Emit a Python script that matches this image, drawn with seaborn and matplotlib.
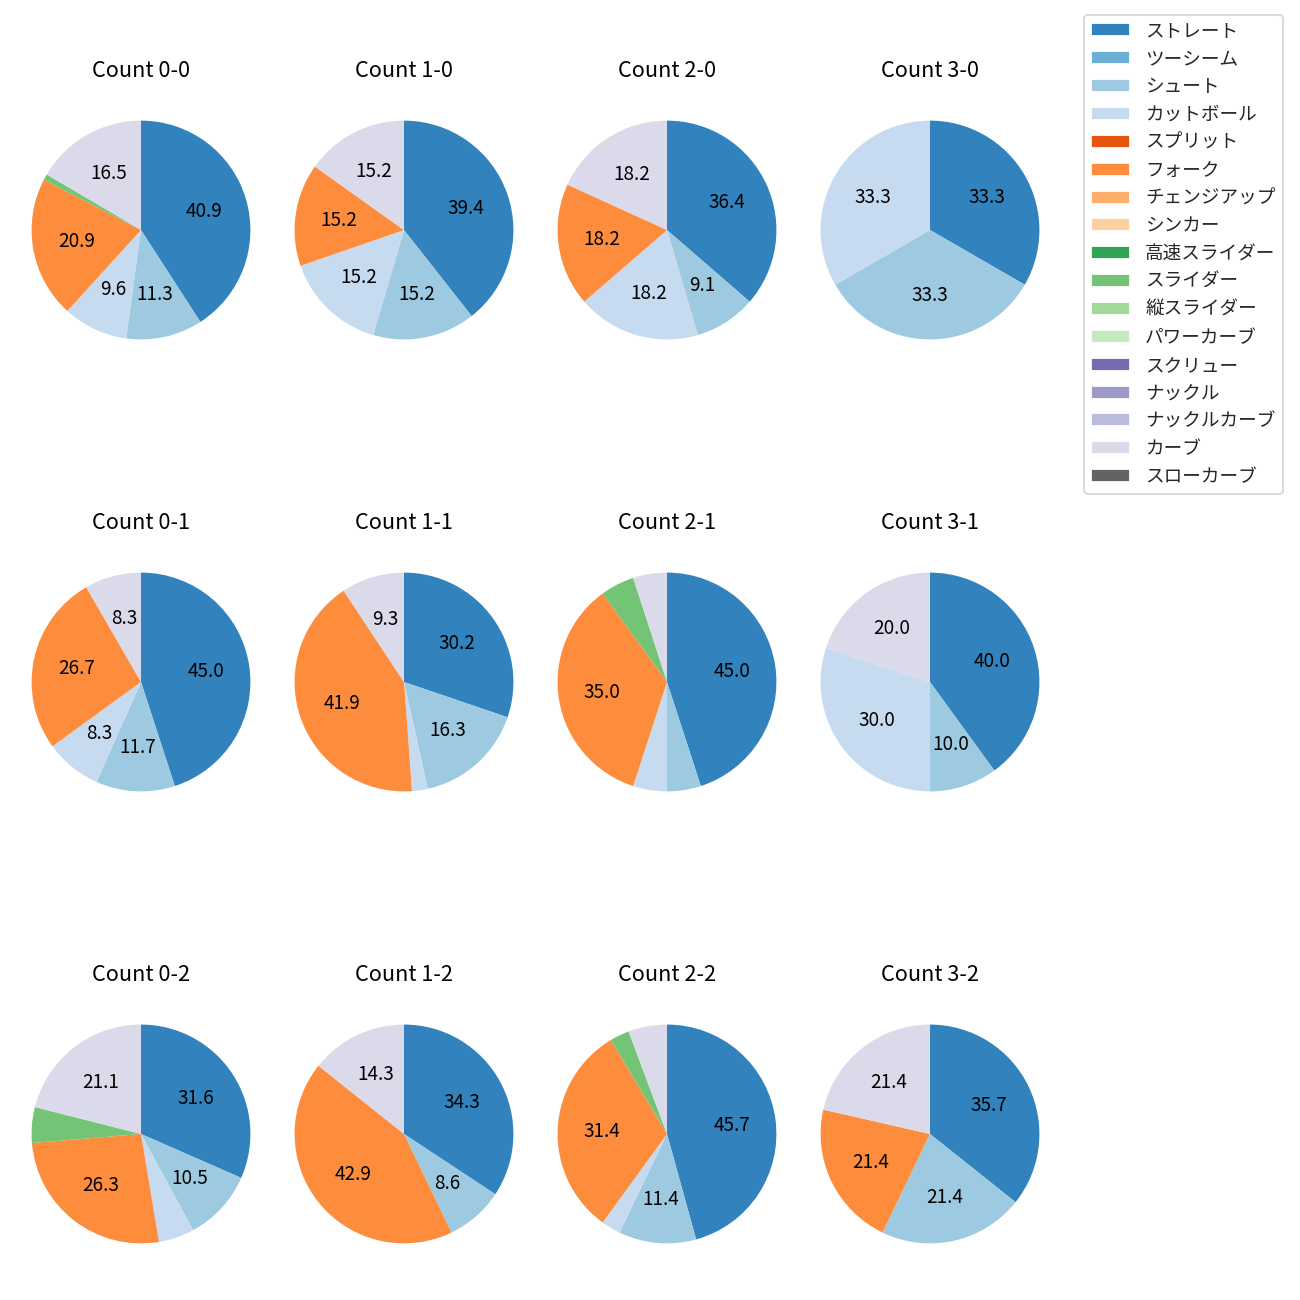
import matplotlib
matplotlib.use('Agg')
import matplotlib.pyplot as plt
from matplotlib.patches import Patch
import seaborn as sns

sns.set_style('white')
plt.rcParams['font.family'] = ['Noto Sans CJK JP', 'DejaVu Sans']

# Pitch types, in legend order
pitch_types = ['ストレート', 'ツーシーム', 'シュート', 'カットボール', 'スプリット', 'フォーク',
               'チェンジアップ', 'シンカー', '高速スライダー', 'スライダー', '縦スライダー',
               'パワーカーブ', 'スクリュー', 'ナックル', 'ナックルカーブ', 'カーブ', 'スローカーブ']
colors = sns.color_palette('tab20c', 20)[:len(pitch_types)]

# Ball-strike counts (grid order: rows = strikes, columns = balls)
count_labels = ['0-0', '1-0', '2-0', '3-0',
                '0-1', '1-1', '2-1', '3-1',
                '0-2', '1-2', '2-2', '3-2']

# Pitches thrown per count for each pitch type that appears
straight = [47, 13, 4, 1, 27, 13, 9, 4, 6, 12, 16, 5]
shoot = [13, 5, 1, 1, 7, 7, 1, 1, 2, 3, 4, 3]
cutter = [11, 5, 2, 1, 5, 1, 1, 3, 1, 0, 1, 0]
fork = [24, 5, 2, 0, 16, 18, 7, 0, 5, 15, 11, 3]
slider = [1, 0, 0, 0, 0, 0, 1, 0, 1, 0, 1, 0]
curve = [19, 5, 2, 0, 5, 4, 1, 2, 4, 5, 2, 3]

series = {'ストレート': straight, 'シュート': shoot, 'カットボール': cutter,
          'フォーク': fork, 'スライダー': slider, 'カーブ': curve}

fig, axes = plt.subplots(3, 4, figsize=(10, 10))
fig.subplots_adjust(left=9.5 / 1300, right=1061.5 / 1300, top=1 - 87 / 1300,
                    bottom=1 - 1277 / 1300, wspace=0, hspace=0.58)

for i, ax in enumerate(axes.flat):
    vals, cols = [], []
    for name, c in zip(pitch_types, colors):
        if name in series and series[name][i] > 0:
            vals.append(series[name][i])
            cols.append(c)
    ax.pie(vals, colors=cols, startangle=90, counterclock=False, radius=1.04,
           autopct=lambda p: f'{p:.1f}' if p > 7 else '',
           wedgeprops={'linewidth': 0},
           textprops={'color': 'black', 'fontsize': 10.5})
    ax.set_title(f'Count {count_labels[i]}', color='black', pad=12)

handles = [Patch(facecolor=c, label=n) for n, c in zip(pitch_types, colors)]
fig.legend(handles=handles, loc='upper right', fontsize=10.3,
           handlelength=2.1, labelspacing=0.53,
           bbox_to_anchor=(1283 / 1300, 1 - 15 / 1300), borderaxespad=0)

plt.savefig('out.png', dpi=130)
plt.close()
